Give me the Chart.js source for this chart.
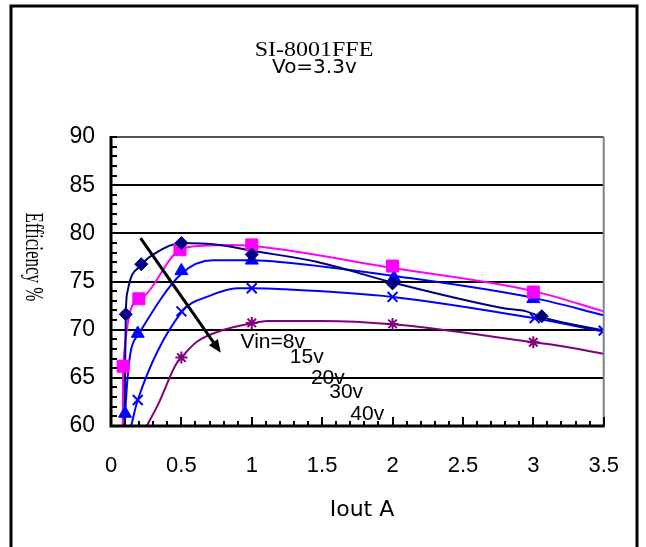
<!DOCTYPE html>
<html>
<head>
<meta charset="utf-8">
<script src="https://cdn.jsdelivr.net/npm/chart.js@4.4.1/dist/chart.umd.min.js"></script>
<style>
  html, body { margin: 0; padding: 0; background: #fff; }
  #wrap { width: 646px; height: 547px; position: relative; }
</style>
</head>
<body>
<div id="wrap"><canvas id="effChart"></canvas></div>
<script>
// SI-8001FFE efficiency vs Iout, Vo = 3.3 V
const titleText = 'SI-8001FFE';
const subTitleText = 'Vo=3.3v';
const xTitle = 'Iout A';
const yTitle = 'Efficiency %';

const seriesNames = ['Vin=8v', '15v', '20v', '30v', '40v'];
const seriesColors = ['#000080', '#ff00ff', '#0000ff', '#0000ff', '#800080'];
const markerStyles = ['rectRot', 'rect', 'triangle', 'crossRot', 'star'];
const markerSizes = [6.5, 8.5, 7.5, 7, 6];

// smoothed curves [Iout A, eff %]
const line8v = [[0.092, 55], [0.105, 71.6], [0.118, 74.0], [0.215, 76.7], [0.31, 77.9], [0.5, 79.0],
  [0.77, 78.8], [1.0, 78.2], [1.46, 77.05], [2.0, 74.9], [2.8, 72.2], [2.95, 71.9], [3.06, 71.3], [3.5, 69.9]];
const line15v = [[0.082, 55], [0.086, 66.2], [0.198, 73.1], [0.49, 78.3], [0.65, 78.7], [0.85, 78.8],
  [1.0, 78.7], [2.0, 76.4], [3.0, 74.0], [3.5, 71.9]];
const line20v = [[0.095, 55], [0.1, 61.1], [0.19, 69.4], [0.5, 75.8], [0.725, 77.2], [1.0, 77.2],
  [1.22, 77.0], [2.0, 75.6], [3.0, 73.3], [3.5, 71.5]];
const line30v = [[0.135, 59.5], [0.19, 62.7], [0.5, 71.8], [0.7, 73.5], [0.9, 74.3],
  [1.0, 74.3], [1.22, 74.2], [2.0, 73.4], [3.0, 71.2], [3.5, 69.8]];
const line40v = [[0.235, 59.5], [0.34, 62.4], [0.458, 66.3], [0.5, 67.1], [0.61, 68.75], [0.795, 69.96],
  [1.0, 70.65], [1.11, 70.9], [1.5, 70.9], [2.0, 70.55], [3.0, 68.7], [3.15, 68.4], [3.5, 67.5]];

// measured points (markers)
const pts8v = [[0.105, 71.6], [0.215, 76.8], [0.5, 79.0], [1.0, 77.8], [2.0, 74.8], [3.06, 71.4]];
const pts15v = [[0.086, 66.2], [0.198, 73.2], [0.49, 78.3], [1.0, 78.8], [2.0, 76.6], [3.0, 73.9]];
const pts20v = [[0.1, 61.3], [0.19, 69.6], [0.5, 76.1], [1.0, 77.2], [2.01, 75.4], [3.0, 73.2]];
const pts30v = [[0.19, 62.7], [0.5, 71.9], [1.0, 74.3], [2.0, 73.4], [3.01, 71.2], [3.5, 69.9]];
const pts40v = [[0.5, 67.1], [1.0, 70.7], [2.0, 70.6], [3.0, 68.7]];

// Vin labels and arrow, in data units
const vinLabelPos = [[0.92, 68.1], [1.27, 66.5], [1.42, 64.35], [1.55, 62.9], [1.70, 60.6]];
const arrowFrom = [0.21, 79.5];
const arrowTo = [0.78, 67.6];

const lines = [line8v, line15v, line20v, line30v, line40v];
const points = [pts8v, pts15v, pts20v, pts30v, pts40v];

const toXY = (arr) => arr.map(([x, y]) => ({ x, y }));

const datasets = [];
lines.forEach((l, i) => {
  datasets.push({
    data: toXY(l),
    showLine: true,
    borderColor: seriesColors[i],
    borderWidth: 2,
    pointRadius: 0,
    cubicInterpolationMode: 'monotone',
    order: 10,
  });
});
points.forEach((p, i) => {
  const cross = markerStyles[i] === 'crossRot' || markerStyles[i] === 'star';
  datasets.push({
    data: toXY(p),
    showLine: false,
    pointStyle: markerStyles[i],
    pointRadius: markerSizes[i],
    pointBackgroundColor: seriesColors[i],
    pointBorderColor: seriesColors[i],
    pointBorderWidth: cross ? 2 : 1,
    order: 1,
  });
});

const decor = {
  id: 'decor',
  beforeDraw(chart) {
    const ctx = chart.ctx;
    ctx.save();
    ctx.fillStyle = '#fff';
    ctx.fillRect(0, 0, chart.width, chart.height);
    // outer frame
    ctx.strokeStyle = '#000';
    ctx.lineWidth = 3;
    ctx.beginPath();
    ctx.moveTo(11, 547);
    ctx.lineTo(11, 6);
    ctx.lineTo(637, 6);
    ctx.lineTo(637, 547);
    ctx.stroke();
    // titles (mincho-like: wide, short serif)
    ctx.fillStyle = '#000';
    ctx.textBaseline = 'alphabetic';
    ctx.textAlign = 'center';
    ctx.save();
    ctx.translate(314, 56);
    ctx.scale(1.2, 1);
    ctx.font = '20px "Liberation Serif"';
    ctx.fillText(titleText, 0, 0);
    ctx.restore();
    ctx.textAlign = 'left';
    ctx.font = '20px "DejaVu Sans"';
    ctx.fillText(subTitleText, 272, 73);
    // y title, rotated clockwise
    ctx.save();
    ctx.translate(26, 257);
    ctx.rotate(Math.PI / 2);
    ctx.scale(0.68, 1);
    ctx.textAlign = 'center';
    ctx.font = '25px "Liberation Serif"';
    ctx.fillText(yTitle, 0, 0);
    ctx.restore();
    ctx.restore();
  },
  afterDatasetsDraw(chart) {
    const ctx = chart.ctx;
    const a = chart.chartArea;
    const xs = chart.scales.x, ys = chart.scales.y;
    ctx.save();
    // plot border: right gray, left/bottom black
    ctx.strokeStyle = '#808080';
    ctx.lineWidth = 2;
    ctx.beginPath();
    ctx.moveTo(a.right, a.top);
    ctx.lineTo(a.right, a.bottom);
    ctx.stroke();
    ctx.strokeStyle = '#000';
    ctx.lineWidth = 3;
    ctx.beginPath();
    ctx.moveTo(a.left, a.top - 1);
    ctx.lineTo(a.left, a.bottom);
    ctx.lineTo(a.right + 1, a.bottom);
    ctx.stroke();
    // inner ticks
    ctx.lineWidth = 2;
    ctx.beginPath();
    for (let v = 60; v <= 90; v += 1) {
      const y = Math.round(ys.getPixelForValue(v));
      ctx.moveTo(a.left, y);
      ctx.lineTo(a.left + 6, y);
    }
    for (let k = 0; k <= 35; k++) {
      const x = Math.round(xs.getPixelForValue(k / 10));
      const len = k % 5 === 0 ? 9 : 5;
      ctx.moveTo(x, a.bottom);
      ctx.lineTo(x, a.bottom - len);
    }
    ctx.stroke();
    // arrow
    const x0 = xs.getPixelForValue(arrowFrom[0]), y0 = ys.getPixelForValue(arrowFrom[1]);
    const x1 = xs.getPixelForValue(arrowTo[0]), y1 = ys.getPixelForValue(arrowTo[1]);
    const ang = Math.atan2(y1 - y0, x1 - x0);
    const head = 14;
    ctx.lineWidth = 3;
    ctx.beginPath();
    ctx.moveTo(x0, y0);
    ctx.lineTo(x1 - Math.cos(ang) * head * 0.8, y1 - Math.sin(ang) * head * 0.8);
    ctx.stroke();
    ctx.fillStyle = '#000';
    ctx.beginPath();
    ctx.moveTo(x1, y1);
    ctx.lineTo(x1 - head * Math.cos(ang - 0.4), y1 - head * Math.sin(ang - 0.4));
    ctx.lineTo(x1 - head * Math.cos(ang + 0.4), y1 - head * Math.sin(ang + 0.4));
    ctx.closePath();
    ctx.fill();
    // Vin labels
    ctx.font = '21px "Liberation Sans"';
    ctx.textAlign = 'left';
    ctx.textBaseline = 'alphabetic';
    seriesNames.forEach((name, i) => {
      ctx.fillText(name, xs.getPixelForValue(vinLabelPos[i][0]), ys.getPixelForValue(vinLabelPos[i][1]));
    });
    ctx.restore();
  },
};

new Chart(document.getElementById('effChart'), {
  type: 'scatter',
  data: { datasets },
  options: {
    responsive: true,
    maintainAspectRatio: false,
    animation: false,
    events: [],
    layout: { padding: { left: 61, right: 33, top: 137, bottom: 61 } },
    plugins: {
      legend: { display: false },
      tooltip: { enabled: false },
    },
    scales: {
      x: {
        type: 'linear',
        min: 0,
        max: 3.5,
        afterFit: (s) => { s.height = 60; },
        grid: { display: false, drawTicks: false },
        border: { display: false },
        ticks: {
          stepSize: 0.5,
          padding: 27,
          color: '#000',
          font: { family: 'Liberation Sans', size: 22 },
          maxRotation: 0,
          callback: (v) => String(+v.toFixed(1)),
        },
        title: { display: false },
      },
      y: {
        type: 'linear',
        min: 60,
        max: 90,
        afterFit: (s) => { s.width = 50; },
        grid: {
          drawTicks: false,
          color: (c) => (c.tick && c.tick.value === 90 ? '#555' : '#000'),
          lineWidth: 2,
        },
        border: { display: false },
        ticks: {
          stepSize: 5,
          padding: 16,
          color: '#000',
          font: { family: 'Liberation Sans', size: 23 },
        },
      },
    },
  },
  plugins: [decor, {
    id: 'xTitle',
    afterDraw(chart) {
      const ctx = chart.ctx;
      ctx.save();
      ctx.fillStyle = '#000';
      ctx.font = '22px "DejaVu Sans"';
      ctx.textAlign = 'center';
      ctx.fillText(xTitle, 362, 516);
      ctx.restore();
    },
  }],
});
</script>
</body>
</html>
